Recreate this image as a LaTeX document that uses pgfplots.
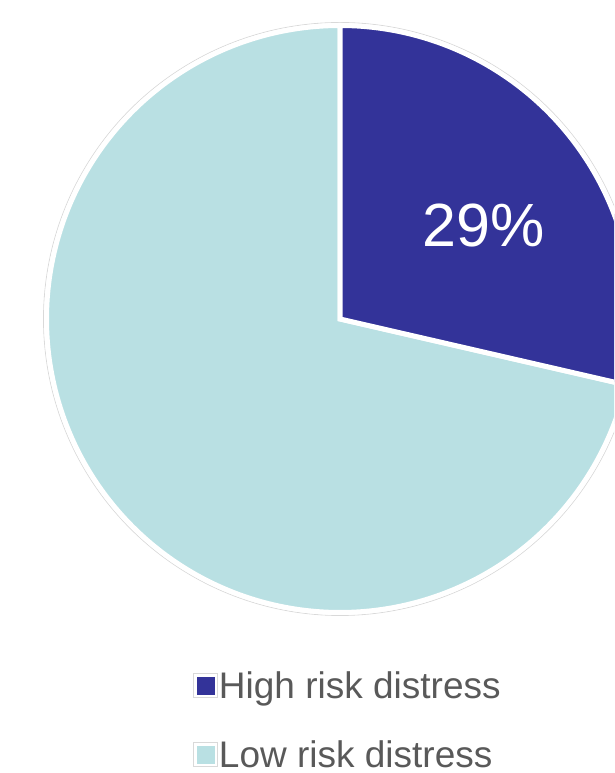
\documentclass[border=0pt]{standalone}
\usepackage{fontspec}
\setmainfont{Liberation Sans}
\usepackage{pgfplots}
\pgfplotsset{compat=1.18}
\definecolor{highc}{RGB}{51,51,153}
\definecolor{lowc}{RGB}{185,224,227}
\definecolor{legtext}{RGB}{89,89,89}
% data (percent)
\newcommand\highrisk{28.6}
\newcommand\lowrisk{71.4}
\begin{document}
\begin{tikzpicture}
\begin{axis}[
  scale only axis, width=614pt, height=773pt,
  xmin=0, xmax=614, ymin=0, ymax=773,
  hide axis, clip=true,
  legend style={at={(0.3094,0.1358)}, anchor=north west,
    draw=none, fill=none, font=\fontsize{37}{42}\selectfont, text=legtext,
    row sep=39pt, nodes={inner sep=1pt, anchor=west}},
  legend cell align=left,
]
% faint outer ring
\addplot[forget plot, gray!30, line width=0.8pt, domain=0:360, samples=300] ({340+296.5*cos(x)},{454+296.5*sin(x)});
% low risk slice
\addplot[forget plot, fill=lowc, draw=white, line width=5pt, domain=90:347.04, samples=300]
  ({340+293.5*cos(x)},{454+293.5*sin(x)}) -- (axis cs:340,454) -- cycle;
% high risk slice
\addplot[forget plot, fill=highc, draw=white, line width=5pt, domain=-12.96:90, samples=150]
  ({340+293.5*cos(x)},{454+293.5*sin(x)}) -- (axis cs:340,454) -- cycle;
\node[text=white, font=\fontsize{61}{70}\selectfont] at (axis cs:484,547) {29\%};
\addlegendimage{legend image code/.code={\draw[gray!30, fill=white, line width=0.8pt] (0pt,-12pt) rectangle (24pt,12pt); \fill[highc] (3.5pt,-8.5pt) rectangle (20.5pt,8.5pt);}}
\addlegendentry{High risk distress}
\addlegendimage{legend image code/.code={\draw[gray!30, fill=white, line width=0.8pt] (0pt,-12pt) rectangle (24pt,12pt); \fill[lowc] (3.5pt,-8.5pt) rectangle (20.5pt,8.5pt);}}
\addlegendentry{Low risk distress}
\end{axis}
\pgfresetboundingbox
\path[use as bounding box] (current axis.south west) rectangle (current axis.north east);
\end{tikzpicture}
\end{document}
